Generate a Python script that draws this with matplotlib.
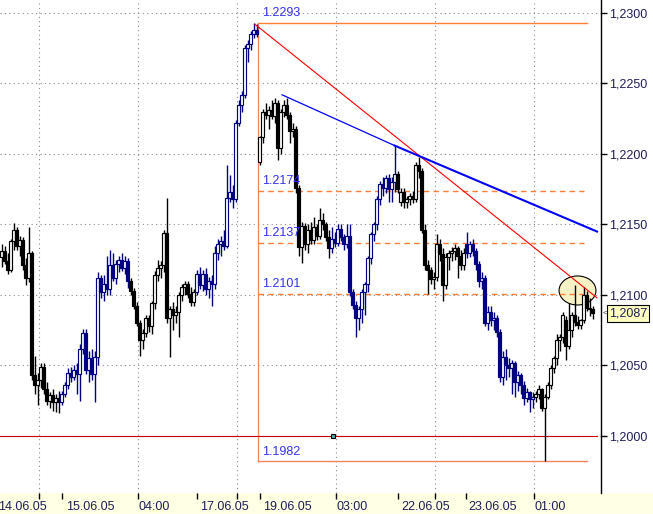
import numpy as np
import matplotlib
matplotlib.use('Agg')
import matplotlib.pyplot as plt
from matplotlib.patches import Ellipse, Rectangle
from matplotlib.ticker import FuncFormatter
import matplotlib.transforms as mtransforms

plt.rcParams['font.family'] = ['Liberation Sans', 'DejaVu Sans']

# Hourly OHLC candles (EUR/USD, 14.06.05 - 24.06.05)
opens = [
    1.2127, 1.2131, 1.2124, 1.2118, 1.2138, 1.2146, 1.2135, 1.2139, 1.2121, 1.2112,
    1.2130, 1.2043, 1.2036, 1.2040, 1.2049, 1.2033, 1.2025, 1.2029, 1.2024, 1.2027,
    1.2024, 1.2030, 1.2036, 1.2045, 1.2042, 1.2047, 1.2044, 1.2062, 1.2073, 1.2047,
    1.2055, 1.2044, 1.2056, 1.2112, 1.2102, 1.2108, 1.2104, 1.2121, 1.2112, 1.2122,
    1.2125, 1.2119, 1.2124, 1.2110, 1.2103, 1.2092, 1.2080, 1.2068, 1.2073, 1.2084,
    1.2078, 1.2094, 1.2114, 1.2119, 1.2121, 1.2144, 1.2084, 1.2090, 1.2086, 1.2088,
    1.2100, 1.2106, 1.2108, 1.2101, 1.2095, 1.2102, 1.2115, 1.2107, 1.2115, 1.2104,
    1.2110, 1.2108, 1.2130, 1.2136, 1.2138, 1.2135, 1.2169, 1.2173, 1.2168, 1.2222,
    1.2235, 1.2242, 1.2275, 1.2278, 1.2285, 1.2288, 1.2194, 1.2212, 1.2230, 1.2228,
    1.2231, 1.2227, 1.2236, 1.2204, 1.2230, 1.2235, 1.2228, 1.2216, 1.2218, 1.2176,
    1.2134, 1.2149, 1.2136, 1.2146, 1.2139, 1.2148, 1.2142, 1.2153, 1.2150, 1.2141,
    1.2133, 1.2140, 1.2137, 1.2147, 1.2141, 1.2136, 1.2142, 1.2102, 1.2093, 1.2084,
    1.2090, 1.2102, 1.2108, 1.2126, 1.2143, 1.2150, 1.2168, 1.2179, 1.2176, 1.2183,
    1.2175, 1.2180, 1.2186, 1.2166, 1.2173, 1.2166, 1.2168, 1.2170, 1.2168, 1.2192,
    1.2188, 1.2146, 1.2121, 1.2118, 1.2111, 1.2113, 1.2136, 1.2129, 1.2107, 1.2127,
    1.2130, 1.2131, 1.2133, 1.2128, 1.2121, 1.2136, 1.2130, 1.2136, 1.2131, 1.2122,
    1.2110, 1.2112, 1.2080, 1.2088, 1.2082, 1.2084, 1.2074, 1.2042, 1.2056, 1.2050,
    1.2048, 1.2052, 1.2038, 1.2043, 1.2036, 1.2027, 1.2031, 1.2026, 1.2028, 1.2030,
    1.2033, 1.2020, 1.2028, 1.2036, 1.2048, 1.2055, 1.2068, 1.2070, 1.2082, 1.2064,
    1.2075, 1.2086, 1.2081, 1.2079, 1.2082, 1.2100, 1.2091, 1.2090,
]
highs = [
    1.2136, 1.2135, 1.2130, 1.2140, 1.2151, 1.2148, 1.2142, 1.2141, 1.2126, 1.2148,
    1.2131, 1.2057, 1.2045, 1.2052, 1.2052, 1.2038, 1.2031, 1.2033, 1.2030, 1.2032,
    1.2032, 1.2038, 1.2048, 1.2049, 1.2050, 1.2052, 1.2065, 1.2076, 1.2076, 1.2060,
    1.2062, 1.2060, 1.2116, 1.2114, 1.2114, 1.2128, 1.2132, 1.2130, 1.2125, 1.2128,
    1.2130, 1.2128, 1.2126, 1.2112, 1.2105, 1.2095, 1.2082, 1.2076, 1.2086, 1.2086,
    1.2096, 1.2117, 1.2125, 1.2124, 1.2146, 1.2169, 1.2092, 1.2095, 1.2092, 1.2102,
    1.2108, 1.2110, 1.2110, 1.2106, 1.2104, 1.2118, 1.2120, 1.2118, 1.2119, 1.2113,
    1.2114, 1.2135, 1.2140, 1.2142, 1.2146, 1.2192, 1.2185, 1.2178, 1.2224, 1.2238,
    1.2245, 1.2277, 1.2281, 1.2287, 1.2293, 1.2292, 1.2213, 1.2232, 1.2236, 1.2234,
    1.2238, 1.2240, 1.2238, 1.2232, 1.2238, 1.2240, 1.2230, 1.2222, 1.2220, 1.2178,
    1.2152, 1.2151, 1.2150, 1.2152, 1.2155, 1.2150, 1.2162, 1.2158, 1.2152, 1.2146,
    1.2148, 1.2145, 1.2150, 1.2150, 1.2143, 1.2150, 1.2150, 1.2104, 1.2096, 1.2092,
    1.2104, 1.2109, 1.2128, 1.2145, 1.2152, 1.2170, 1.2181, 1.2184, 1.2185, 1.2186,
    1.2184, 1.2206, 1.2188, 1.2176, 1.2176, 1.2170, 1.2172, 1.2174, 1.2194, 1.2198,
    1.2190, 1.2150, 1.2125, 1.2120, 1.2116, 1.2143, 1.2140, 1.2133, 1.2130, 1.2132,
    1.2134, 1.2136, 1.2135, 1.2132, 1.2133, 1.2145, 1.2138, 1.2140, 1.2133, 1.2124,
    1.2116, 1.2114, 1.2092, 1.2092, 1.2088, 1.2086, 1.2076, 1.2060, 1.2062, 1.2055,
    1.2054, 1.2053, 1.2046, 1.2045, 1.2039, 1.2034, 1.2032, 1.2031, 1.2032, 1.2036,
    1.2034, 1.2030, 1.2038, 1.2050, 1.2057, 1.2072, 1.2072, 1.2088, 1.2085, 1.2094,
    1.2088, 1.2107, 1.2085, 1.2083, 1.2106, 1.2103, 1.2098, 1.2092,
]
lows = [
    1.2120, 1.2122, 1.2115, 1.2116, 1.2132, 1.2132, 1.2128, 1.2118, 1.2107, 1.2109,
    1.2040, 1.2030, 1.2022, 1.2034, 1.2030, 1.2022, 1.2020, 1.2018, 1.2017, 1.2016,
    1.2022, 1.2028, 1.2033, 1.2038, 1.2040, 1.2030, 1.2025, 1.2058, 1.2044, 1.2038,
    1.2040, 1.2024, 1.2050, 1.2098, 1.2096, 1.2100, 1.2100, 1.2110, 1.2108, 1.2116,
    1.2117, 1.2115, 1.2105, 1.2100, 1.2090, 1.2078, 1.2057, 1.2062, 1.2070, 1.2074,
    1.2072, 1.2090, 1.2110, 1.2112, 1.2116, 1.2080, 1.2056, 1.2075, 1.2080, 1.2070,
    1.2096, 1.2100, 1.2098, 1.2092, 1.2092, 1.2100, 1.2104, 1.2103, 1.2100, 1.2098,
    1.2092, 1.2104, 1.2125, 1.2128, 1.2132, 1.2133, 1.2166, 1.2162, 1.2166, 1.2220,
    1.2230, 1.2240, 1.2265, 1.2274, 1.2282, 1.2283, 1.2192, 1.2208, 1.2225, 1.2218,
    1.2225, 1.2222, 1.2196, 1.2200, 1.2226, 1.2225, 1.2208, 1.2212, 1.2172, 1.2128,
    1.2123, 1.2132, 1.2130, 1.2136, 1.2136, 1.2139, 1.2140, 1.2146, 1.2138, 1.2126,
    1.2130, 1.2134, 1.2135, 1.2138, 1.2132, 1.2133, 1.2099, 1.2090, 1.2070, 1.2075,
    1.2080, 1.2086, 1.2102, 1.2122, 1.2138, 1.2146, 1.2164, 1.2170, 1.2172, 1.2166,
    1.2166, 1.2173, 1.2172, 1.2163, 1.2162, 1.2162, 1.2164, 1.2165, 1.2166, 1.2183,
    1.2144, 1.2118, 1.2101, 1.2108, 1.2104, 1.2110, 1.2124, 1.2096, 1.2104, 1.2118,
    1.2124, 1.2125, 1.2112, 1.2118, 1.2118, 1.2126, 1.2127, 1.2128, 1.2118, 1.2106,
    1.2104, 1.2078, 1.2075, 1.2078, 1.2075, 1.2070, 1.2038, 1.2036, 1.2040, 1.2042,
    1.2030, 1.2028, 1.2032, 1.2030, 1.2022, 1.2024, 1.2017, 1.2020, 1.2024, 1.2026,
    1.2018, 1.1982, 1.2026, 1.2033, 1.2045, 1.2050, 1.2060, 1.2066, 1.2054, 1.2062,
    1.2070, 1.2078, 1.2076, 1.2076, 1.2080, 1.2089, 1.2085, 1.2083,
]
closes = [
    1.2131, 1.2124, 1.2118, 1.2138, 1.2146, 1.2135, 1.2139, 1.2121, 1.2112, 1.2130,
    1.2043, 1.2036, 1.2040, 1.2049, 1.2033, 1.2025, 1.2029, 1.2024, 1.2027, 1.2024,
    1.2030, 1.2036, 1.2045, 1.2042, 1.2047, 1.2044, 1.2062, 1.2073, 1.2047, 1.2055,
    1.2044, 1.2056, 1.2112, 1.2102, 1.2108, 1.2104, 1.2121, 1.2112, 1.2122, 1.2125,
    1.2119, 1.2124, 1.2110, 1.2103, 1.2092, 1.2080, 1.2068, 1.2073, 1.2084, 1.2078,
    1.2094, 1.2114, 1.2119, 1.2121, 1.2144, 1.2084, 1.2090, 1.2086, 1.2088, 1.2100,
    1.2106, 1.2108, 1.2101, 1.2095, 1.2102, 1.2115, 1.2107, 1.2115, 1.2104, 1.2110,
    1.2108, 1.2130, 1.2136, 1.2138, 1.2135, 1.2169, 1.2173, 1.2168, 1.2222, 1.2235,
    1.2242, 1.2275, 1.2278, 1.2285, 1.2288, 1.2285, 1.2212, 1.2230, 1.2228, 1.2231,
    1.2227, 1.2236, 1.2204, 1.2230, 1.2235, 1.2228, 1.2216, 1.2218, 1.2176, 1.2134,
    1.2149, 1.2136, 1.2146, 1.2139, 1.2148, 1.2142, 1.2153, 1.2150, 1.2141, 1.2133,
    1.2140, 1.2137, 1.2147, 1.2141, 1.2136, 1.2142, 1.2102, 1.2093, 1.2084, 1.2090,
    1.2102, 1.2108, 1.2126, 1.2143, 1.2150, 1.2168, 1.2179, 1.2176, 1.2183, 1.2175,
    1.2180, 1.2186, 1.2175, 1.2173, 1.2166, 1.2168, 1.2170, 1.2168, 1.2192, 1.2188,
    1.2146, 1.2121, 1.2118, 1.2111, 1.2113, 1.2136, 1.2129, 1.2107, 1.2127, 1.2130,
    1.2131, 1.2133, 1.2128, 1.2121, 1.2130, 1.2130, 1.2136, 1.2131, 1.2122, 1.2110,
    1.2112, 1.2080, 1.2088, 1.2082, 1.2084, 1.2074, 1.2042, 1.2056, 1.2050, 1.2048,
    1.2052, 1.2038, 1.2043, 1.2036, 1.2027, 1.2031, 1.2026, 1.2028, 1.2030, 1.2033,
    1.2020, 1.2028, 1.2036, 1.2048, 1.2055, 1.2068, 1.2070, 1.2086, 1.2064, 1.2075,
    1.2086, 1.2081, 1.2079, 1.2082, 1.2100, 1.2091, 1.2090, 1.2087,
]

# first candle of each trading day (days alternate black / navy)
day_start = [0, 20, 43, 65, 86, 110, 132, 155, 178]

# time axis
tick_pos = [12.5, 20.2, 45.5, 65.2, 78.5, 86.2, 111.5, 132.2, 144.5, 154.8, 177.5]
grid_pos = [12.5, 45.5, 78.5, 111.5, 144.5, 177.5]
time_labels = ['14.06.05', '15.06.05', '04:00', '17.06.05', '19.06.05', '03:00',
               '22.06.05', '23.06.05', '01:00']
time_label_pos = [-1.0, 21.5, 45.8, 66.2, 87.2, 111.8, 133.2, 155.5, 177.5]

price_ticks = [1.2000, 1.2050, 1.2100, 1.2150, 1.2200, 1.2250, 1.2300]

# Fibonacci retracement between swing high and low
fib_high = 1.2293
fib_low = 1.1982
fib_mid = [1.2174, 1.2137, 1.2101]
fib_start, fib_end = 85.5, 195.2

# trend lines (candle index, price)
red_line = ([84.5, 198.5], [1.2292, 1.2098])
blue_line = ([93.5, 131.0], [1.2242, 1.2206])
blue_line2 = ([131.0, 198.5], [1.2206, 1.2145])

last_price = 1.2087

fig = plt.figure(figsize=(6.53, 5.14), dpi=100)
fig.patches.append(Rectangle((0, 0), 1, 21 / 514, transform=fig.transFigure,
                             facecolor='#ffffe4', edgecolor='none', zorder=-1))
ax = fig.add_axes([0, 21 / 514, 601 / 653, 493 / 514])
ax.set_facecolor('white')

n = len(closes)
x = np.arange(n)
o = np.array(opens)
h = np.array(highs)
l = np.array(lows)
c = np.array(closes)

day_of = np.searchsorted(day_start, x, side='right') - 1
cols = np.where(day_of % 2 == 1, '#000080', '#000000')
up = c >= o
faces = np.where(up, 'white', cols)

# grid
for gx in grid_pos:
    ax.axvline(gx, color='#8c8c8c', lw=0.8, ls=(0, (1, 3)), zorder=0)
for py in price_ticks:
    ax.axhline(py, color='#8c8c8c', lw=0.8, ls=(0, (1, 3)), zorder=0)

# highlight ellipse
ax.add_patch(Ellipse((192.0, 1.21032), 12.3, 0.00206, facecolor='#f6f2c6',
                     edgecolor='black', lw=0.8, zorder=1))

# Fibonacci lines
fib_col = '#ff7f3a'
ax.plot([fib_start, fib_end], [fib_high, fib_high], color=fib_col, lw=1, zorder=2)
ax.plot([fib_start, fib_end], [fib_low, fib_low], color='#f4845e', lw=1, zorder=2)
ax.plot([fib_start, fib_start], [fib_low, fib_high], color='#f4845e', lw=0.9, zorder=2)
for lev in fib_mid:
    ax.plot([fib_start, fib_end - 1], [lev, lev], color=fib_col, lw=1,
            ls=(0, (4, 3)), zorder=2)
for lev in [fib_high] + fib_mid + [fib_low]:
    ax.text(fib_start + 1.3, lev + 0.00025, f'{lev:.4f}', color='#3333ee',
            fontsize=9, ha='left', va='bottom', zorder=5)

# 1.2000 line and marker
ax.plot([-0.5, 198.5], [1.2000, 1.2000], color='#c80000', lw=0.8, zorder=2)
ax.plot([110.5], [1.2000], marker='s', ms=3.5, mfc='#40b0b0', mec='black',
        mew=0.8, zorder=5)

# candles
ax.vlines(x, l, h, colors=cols, lw=1, zorder=3)
ax.bar(x, np.abs(c - o), bottom=np.minimum(o, c), width=0.68, color=faces,
       edgecolor=cols, linewidth=0.85, zorder=3)

# trend lines
ax.plot(*red_line, color='red', lw=0.8, zorder=4)
ax.plot(*blue_line, color='#0000ff', lw=0.9, zorder=4)
ax.plot(*blue_line2, color='#0000ff', lw=1.5, zorder=4)

ax.set_xlim(-0.5, 199.83)
ax.set_ylim(1.195957, 1.230922)

for side in ['left', 'top', 'bottom']:
    ax.spines[side].set_visible(False)
ax.spines['right'].set_color('black')
ax.spines['right'].set_linewidth(1)

ax.yaxis.tick_right()
ax.set_yticks(price_ticks)
ax.yaxis.set_major_formatter(FuncFormatter(lambda v, p: f'{v:.4f}'.replace('.', ',')))
ax.tick_params(axis='y', direction='out', length=4, width=1, pad=1.5,
               labelsize=9, labelcolor='#1e1e5a')

ax.set_xticks(tick_pos)
ax.tick_params(axis='x', direction='out', length=4.3, width=1, labelbottom=False)

trans = mtransforms.blended_transform_factory(ax.transData, ax.transAxes)
for lab, px in zip(time_labels, time_label_pos):
    ax.text(px, -0.0284, lab, transform=trans, fontsize=9, color='#1e1e5a',
            ha='left', va='center', clip_on=False)

# last price tag
trans_y = mtransforms.blended_transform_factory(ax.transAxes, ax.transData)
ax.text(1.0132, last_price, f'{last_price:.4f}'.replace('.', ','), transform=trans_y,
        fontsize=9, color='#1e1e5a', ha='left', va='center', clip_on=False,
        bbox=dict(boxstyle='square,pad=0.18', fc='#ffffc0', ec='black', lw=0.8))
ax.text(1.003, last_price, '<', transform=trans_y, fontsize=6, color='#404040',
        ha='left', va='center', clip_on=False)

fig.savefig('out.png', dpi=100)
